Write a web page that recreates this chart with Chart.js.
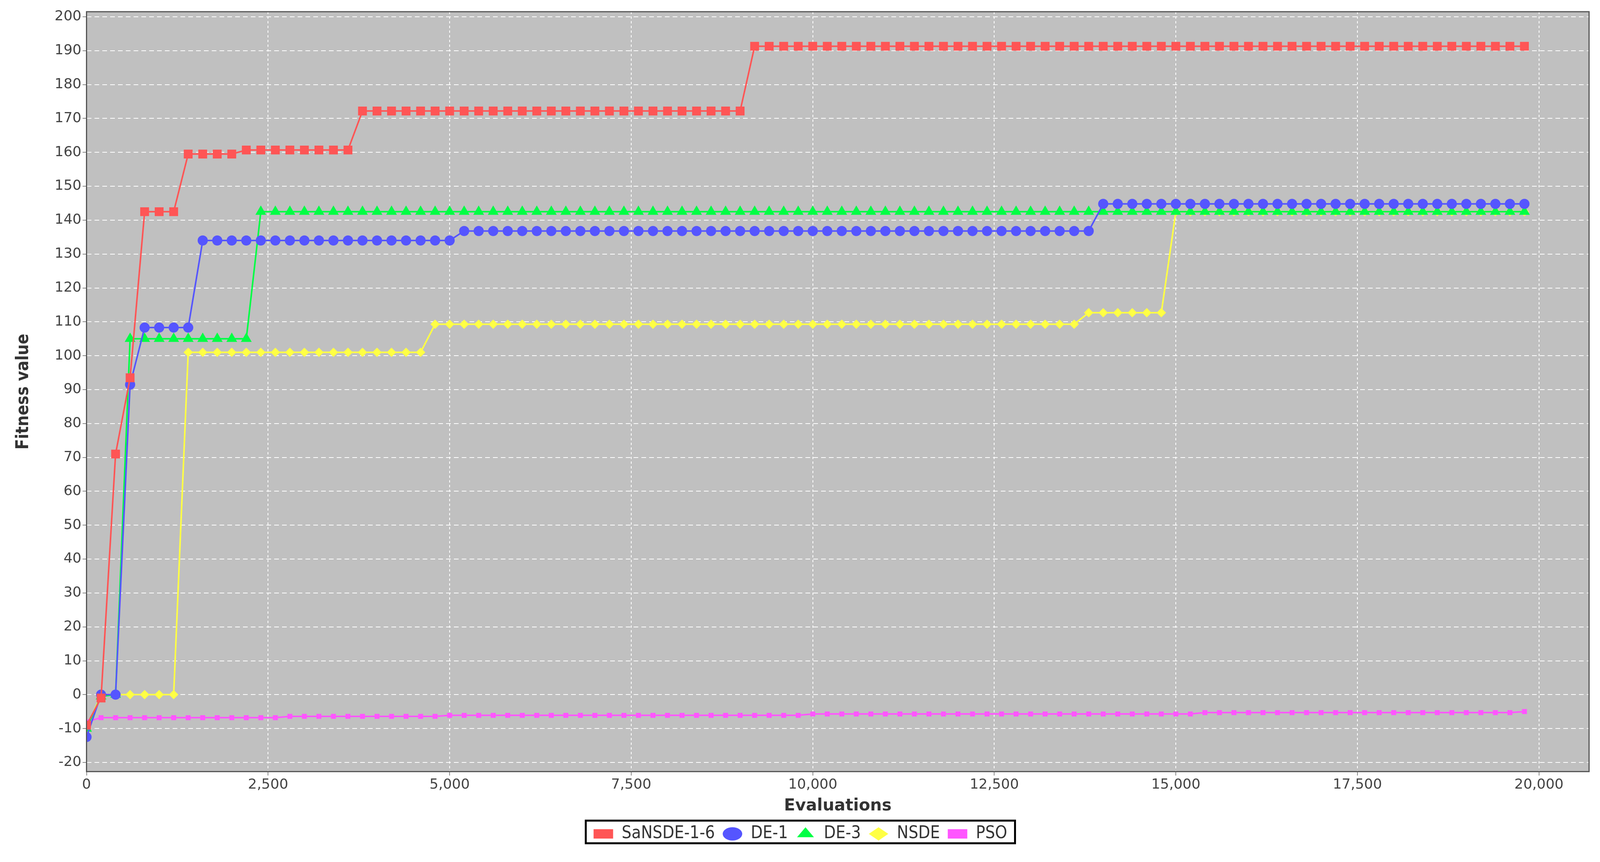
<!DOCTYPE html>
<html><head><meta charset="utf-8">
<script src="https://cdn.jsdelivr.net/npm/chart.js@4/dist/chart.umd.min.js"></script>
<style>html,body{margin:0;padding:0;background:#fff}#w{width:4124px;height:2208px}</style>
</head><body><div id="w"><canvas id="c"></canvas></div>
<script>
const evaluations = Array.from({length:100},(_,i)=>i*200);
function steps(first, segs){
  const out=[...first];
  for(const [val,count] of segs) for(let k=0;k<count;k++) out.push(val);
  return out;
}
const saNSDE = steps([-9,-1,71,93.5],[[142.5,3],[159.5,4],[160.7,8],[172.2,27],[191.3,54]]);
const de1 = steps([-12.5,0,0,91.5],[[108.3,4],[134,18],[136.8,44],[144.8,30]]);
const de3 = steps([-10,-0.5,0],[[105,9],[142.5,88]]);
const nsde = steps([-10,0],[[0,5],[101,17],[109.3,45],[112.7,6],[142.5,25]]);
const pso = steps([-8],[[-6.8,13],[-6.4,11],[-6.1,25],[-5.7,27],[-5.3,22],[-5.0,1]]);
const seriesNames = ["SaNSDE-1-6","DE-1","DE-3","NSDE","PSO"];
const yTicks = [-20,-10,0,10,20,30,40,50,60,70,80,90,100,110,120,130,140,150,160,170,180,190,200];
const xTicks = [0,2500,5000,7500,10000,12500,15000,17500,20000];

const mk=(d,name,col,style,r)=>({label:name,data:evaluations.map((x,i)=>({x,y:d[i]})),borderColor:col,backgroundColor:col,
  borderWidth:4,pointStyle:style,pointRadius:r,pointHoverRadius:r,pointBorderWidth:0});
const bg={id:'bg',beforeDraw(c){const a=c.chartArea,x=c.ctx;x.save();x.fillStyle='#c0c0c0';x.fillRect(a.left,a.top,a.width,a.height);x.restore();},
 afterDraw(c){const a=c.chartArea,x=c.ctx,l=c.legend;x.save();x.strokeStyle='#555';x.lineWidth=3;x.strokeRect(a.left,a.top,a.width,a.height);
  x.strokeStyle='#000';x.lineWidth=5;const lw=l.legendItems.length?l.lineWidths[0]:0;const cx=(l.left+l.right)/2;
  x.strokeRect(cx-lw/2-10,l.top+8,lw+20,l.height-16);x.restore();}};
new Chart(document.getElementById('c'),{type:'line',
 data:{datasets:[mk(saNSDE,seriesNames[0],'#ff5555','rect',16),mk(de1,seriesNames[1],'#5555ff','circle',13),
  mk(de3,seriesNames[2],'#00ff44','triangle',16),mk(nsde,seriesNames[3],'#ffff44','rectRot',12),mk(pso,seriesNames[4],'#ff55ff','rect',9)]},
 options:{responsive:true,maintainAspectRatio:false,animation:false,devicePixelRatio:1,
  layout:{padding:{left:30,right:56,top:30,bottom:40}},
  plugins:{legend:{position:'bottom',labels:{usePointStyle:true,boxHeight:24,pointStyleWidth:50,font:{size:44,family:'DejaVu Sans Condensed'},color:'#333',padding:20}},tooltip:{enabled:false}},
  scales:{x:{type:'linear',min:0,max:20690,afterBuildTicks(s){s.ticks=xTicks.map(v=>({value:v}));},
    ticks:{font:{size:36,family:'DejaVu Sans'},color:'#444',callback:v=>v.toLocaleString('en-US'),maxRotation:0},
    grid:{color:'#fff',lineWidth:2,tickColor:'#888',tickLength:10},border:{dash:[6,6],color:'#555'},
    title:{display:true,text:'Evaluations',font:{size:42,weight:'bold',family:'DejaVu Sans'},color:'#333',padding:{top:4}}},
   y:{min:-22.7,max:201.5,afterBuildTicks(s){s.ticks=yTicks.map(v=>({value:v}));},
    ticks:{font:{size:36,family:'DejaVu Sans'},color:'#444'},
    grid:{color:'#fff',lineWidth:2,tickColor:'#888',tickLength:10},border:{dash:[12,8],color:'#555'},
    title:{display:true,text:'Fitness value',font:{size:44,weight:'bold',family:'DejaVu Sans Condensed'},color:'#333',padding:{bottom:50}}}}},
 plugins:[bg]});
</script></body></html>
